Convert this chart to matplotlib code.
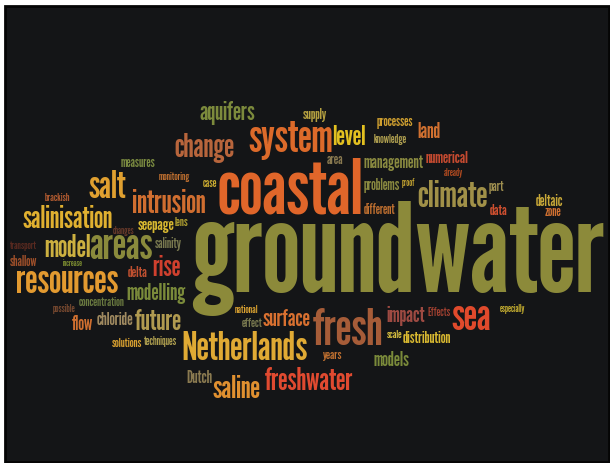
import matplotlib
matplotlib.use("Agg")
import matplotlib.pyplot as plt
from matplotlib.textpath import TextPath
from matplotlib.font_manager import FontProperties
from matplotlib.patches import Rectangle

# Palabras de la nube
words = [
    "groundwater", "coastal", "fresh", "Netherlands", "resources", "system",
    "climate", "intrusion", "areas", "change", "salt", "sea", "freshwater",
    "saline", "level", "aquifers", "future", "model", "salinisation",
    "modelling", "rise", "surface", "impact", "land", "numerical",
    "management", "flow", "chloride", "distribution", "models", "seepage",
    "problems", "deltaic", "delta", "different", "data", "salinity", "Dutch",
    "processes", "knowledge", "concentration", "solutions", "techniques",
    "national", "effect", "years", "Effects", "especially", "scale", "part",
    "zone", "already", "proof", "monitoring", "measures", "brackish",
    "changes", "lens", "transport", "shallow", "increase", "possible",
    "case", "area", "supply",
]

# Colores de cada palabra
word_colors = [
    "#8c8a3a", "#e0662a", "#a65c38", "#e0aa34", "#e39a30", "#dc6a2a",
    "#a09048", "#d06e30", "#8a8a3c", "#b8653c", "#e0a030", "#e04a2c", "#e04a30",
    "#e09030", "#e2c020", "#7c8a3c", "#b09a50", "#ccb040", "#e0b030",
    "#7a8a3a", "#d0402e", "#d87030", "#9e4a42", "#d07030", "#c44a30",
    "#8a8a40", "#d07030", "#a08a60", "#d8b830", "#7a8a3a", "#d8b830",
    "#8a8a40", "#c8a838", "#c05030", "#c07030", "#d05030", "#7a7a50", "#8a7a50",
    "#d0a030", "#b0a050", "#6a7a40", "#d8a030", "#b0a050",
    "#d8a030", "#7a7a50", "#c07030", "#a04030", "#c8b030", "#d8c040", "#a09050",
    "#d07030", "#b04a20", "#c0a030", "#c07030", "#7a8a40", "#b05a30",
    "#6a3a2a", "#b0a030", "#5a2a20", "#a0502a", "#7a8a30", "#7a4a30",
    "#c8a830", "#8a7a50", "#b5a040",
]

# Caja de cada palabra en pixeles: izquierda, derecha, arriba, linea base
boxes = [
    (192, 603, 195, 298), (219, 361, 157, 215), (313, 382, 305, 347),
    (183, 307, 330, 361), (17, 118, 268, 295), (249, 332, 122, 152),
    (418, 487, 180, 207), (133, 205, 190, 212), (90, 152, 233, 262),
    (175, 234, 135, 155), (89, 126, 169, 200), (452, 490, 305, 331),
    (265, 353, 367, 390), (213, 260, 376, 397), (333, 365, 122, 148),
    (200, 255, 103, 118), (135, 181, 307, 332), (45, 90, 235, 256),
    (23, 112, 207, 228), (127, 185, 282, 300), (153, 180, 255, 277),
    (263, 310, 309, 326), (387, 425, 307, 322), (418, 440, 121, 139),
    (426, 468, 150, 163), (364, 423, 155, 168), (72, 93, 315, 332),
    (97, 133, 312, 325), (403, 450, 332, 343), (374, 409, 352, 365),
    (138, 174, 220, 230), (364, 400, 179, 189), (536, 563, 194, 206),
    (128, 147, 265, 278), (364, 395, 203, 216), (490, 507, 203, 216),
    (155, 182, 238, 247), (187, 212, 370, 383), (377, 413, 119, 126),
    (374, 407, 135, 143), (79, 124, 297, 306), (112, 142, 338, 347),
    (144, 177, 337, 344), (235, 258, 305, 313), (242, 262, 318, 326),
    (323, 342, 352, 359), (428, 450, 307, 316), (500, 525, 305, 312),
    (387, 402, 330, 338), (489, 504, 182, 190), (545, 561, 208, 216),
    (444, 463, 169, 175), (402, 415, 179, 186), (159, 190, 172, 179),
    (121, 155, 159, 168), (45, 70, 193, 201), (113, 134, 227, 233),
    (175, 188, 217, 225), (10, 37, 242, 248), (10, 37, 257, 265),
    (63, 83, 260, 266), (53, 75, 305, 312), (203, 217, 180, 187),
    (327, 343, 157, 163), (303, 327, 111, 117),
]

DPI = 100
familia = ["League Gothic", "DejaVu Sans"]
fp = FontProperties(family=familia)

fig = plt.figure(figsize=(6.10, 4.64), dpi=DPI, facecolor="white")
ax = fig.add_axes([0, 0, 1, 1])
ax.set_xlim(0, 610)
ax.set_ylim(464, 0)
ax.axis("off")

# Fondo negro
ax.add_patch(Rectangle((5, 7), 604, 456, facecolor="#141517", edgecolor="#050505", lw=2))

for palabra, color, (x0, x1, top, base) in zip(words, word_colors, boxes):
    # tamaño de letra segun el ancho de la caja
    tp = TextPath((0, 0), palabra, size=100, prop=fp)
    ext = tp.get_extents()
    em = 100 * (x1 - x0) / ext.width
    alto = ext.y1 * em / 100
    # centrar verticalmente dentro de la caja
    base_nueva = base - ((base - top) - alto) / 2
    x = x0 - ext.x0 * em / 100
    ax.text(x, base_nueva, palabra, color=color, family=familia,
            fontsize=em * 72 / DPI, ha="left", va="baseline")

fig.savefig("out.png", dpi=DPI)
